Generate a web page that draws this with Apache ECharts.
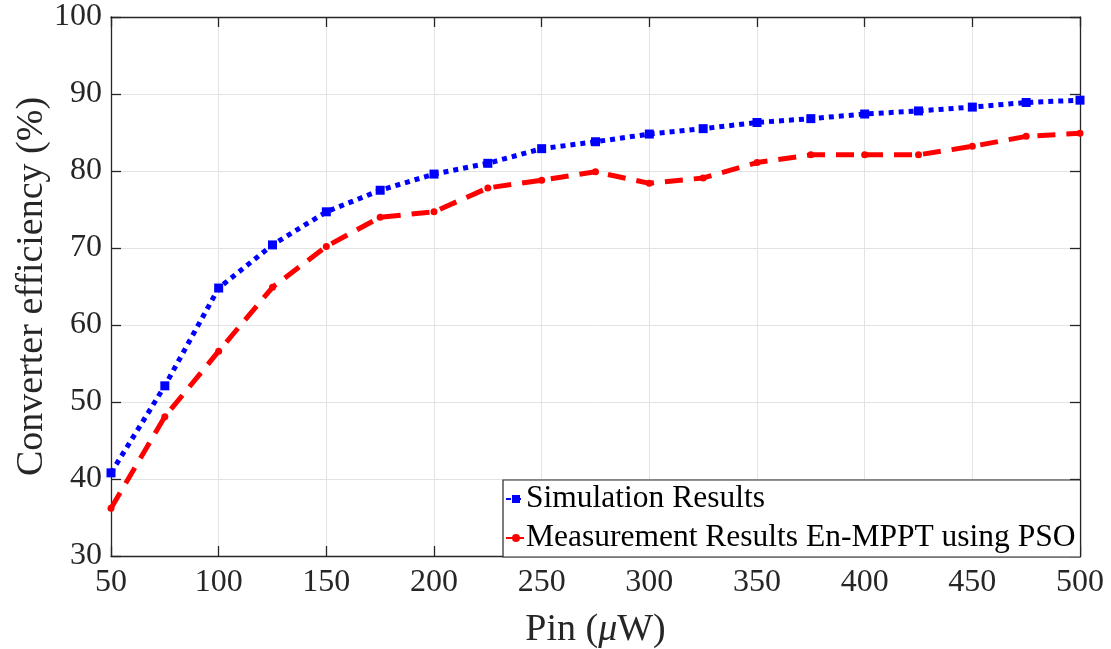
<!DOCTYPE html>
<html>
<head>
<meta charset="utf-8">
<script src="https://cdn.jsdelivr.net/npm/echarts@6/dist/echarts.min.js"></script>
<style>html,body{margin:0;padding:0;background:#fff}#c{width:1111px;height:649px}</style>
</head>
<body>
<div id="c"></div>
<script>
const pinValues = [50,75,100,125,150,175,200,225,250,275,300,325,350,375,400,425,450,475,500];
const simulation = [40.8,52.1,64.8,70.4,74.7,77.5,79.6,81.0,82.9,83.8,84.8,85.5,86.3,86.8,87.4,87.8,88.3,88.9,89.2];
const measurement = [36.2,48.1,56.6,64.9,70.2,74.0,74.7,77.8,78.8,79.9,78.4,79.1,81.1,82.1,82.1,82.1,83.2,84.5,84.9];
const xTicks = [50,100,150,200,250,300,350,400,450,500];
const yTicks = [30,40,50,60,70,80,90,100];
const seriesNames = ['Simulation Results','Measurement Results En-MPPT using PSO'];

const font = 'Liberation Serif, Times New Roman, serif';
const chart = echarts.init(document.getElementById('c'), null, {renderer:'canvas'});
const pair = (xs, ys) => xs.map((x,i)=>[x, ys[i]]);
const axisCommon = {
  axisLine:{show:true,lineStyle:{color:'#262626',width:1.3}},
  axisTick:{show:true,inside:true,length:10,lineStyle:{color:'#262626',width:1.3}},
};
chart.setOption({
  animation:false,
  backgroundColor:'#fff',
  grid:{left:111,right:31,top:17,bottom:93,containLabel:false,outerBoundsMode:'none'},
  xAxis:[{
    type:'value',min:xTicks[0],max:xTicks[xTicks.length-1],interval:50,position:'bottom',
    ...axisCommon,
    axisLabel:{color:'#262626',fontFamily:font,fontSize:32,margin:11},
    splitLine:{show:true,lineStyle:{color:'#e3e3e3',width:1}},
    name:'Pin ({i|μ}W)',nameLocation:'middle',nameGap:55,
    nameTextStyle:{color:'#262626',fontFamily:font,fontSize:38,
      rich:{i:{fontStyle:'italic',fontFamily:font,fontSize:38,color:'#262626'}}}
  },{
    type:'value',min:xTicks[0],max:xTicks[xTicks.length-1],interval:50,position:'top',
    ...axisCommon,axisLabel:{show:false},splitLine:{show:false}
  }],
  yAxis:[{
    type:'value',min:yTicks[0],max:yTicks[yTicks.length-1],interval:10,position:'left',
    ...axisCommon,
    axisLabel:{color:'#262626',fontFamily:font,fontSize:32,margin:9},
    splitLine:{show:true,lineStyle:{color:'#e3e3e3',width:1}},
    name:'Converter efficiency (%)',nameLocation:'middle',nameGap:60,nameRotate:90,
    nameMoveOverlap:false,
    nameTextStyle:{color:'#262626',fontFamily:font,fontSize:38}
  },{
    type:'value',min:yTicks[0],max:yTicks[yTicks.length-1],interval:10,position:'right',
    ...axisCommon,axisLabel:{show:false},splitLine:{show:false}
  }],
  legend:{
    orient:'vertical',left:503,top:480,
    backgroundColor:'#fff',borderColor:'#262626',borderWidth:1.2,borderRadius:0,
    padding:[3,5,3,2],itemGap:7,itemWidth:20,itemHeight:10,
    textStyle:{fontFamily:font,fontSize:31.5,color:'#000',padding:[0,0,0,-5]},
    data:seriesNames
  },
  series:[{
    name:seriesNames[0],type:'line',data:pair(pinValues,simulation),
    symbol:'rect',symbolSize:9,
    itemStyle:{color:'#0000ff'},
    lineStyle:{color:'#0000ff',width:5,type:[5,5],cap:'butt'},
    z:3
  },{
    name:seriesNames[1],type:'line',data:pair(pinValues,measurement),
    symbol:'circle',symbolSize:7,
    itemStyle:{color:'#ff0000'},
    lineStyle:{color:'#ff0000',width:5,type:[18,11],cap:'butt'},
    z:2
  }]
});
</script>
</body>
</html>
